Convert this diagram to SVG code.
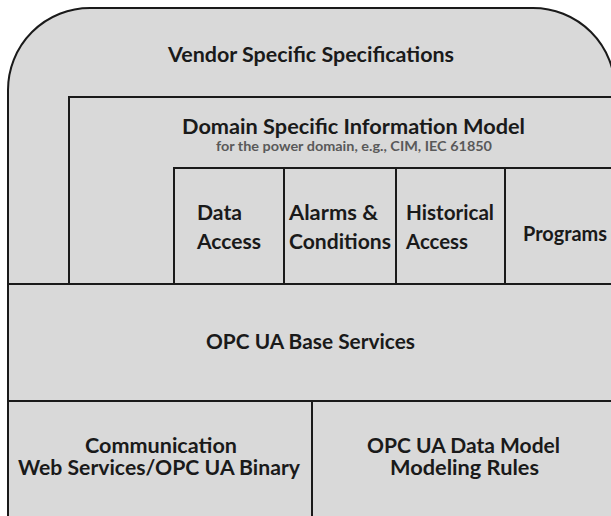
<svg xmlns="http://www.w3.org/2000/svg" width="611" height="516" viewBox="0 0 611 516">
  <style>
    .box { fill: #d9d9d9; stroke: #1a1a1a; stroke-width: 2; }
    .t { font-family: Lato, "Open Sans", "Liberation Sans", sans-serif; font-weight: bold; font-size: 21px; fill: #1a1a1a; }
    .tb { font-family: Lato, "Open Sans", "Liberation Sans", sans-serif; font-weight: bold; font-size: 20px; fill: #1a1a1a; }
    .sub { font-family: Lato, "Open Sans", "Liberation Sans", sans-serif; font-weight: bold; font-size: 13px; fill: #595959; }
  </style>
  <rect x="0" y="0" width="611" height="516" fill="#ffffff"/>
  <g id="vendor">
    <path class="box" d="M8,530 V90 A82,82 0 0 1 90,8 H533 A82,82 0 0 1 615,90 V530"/>
    <text class="t" x="168" y="62" textLength="286" lengthAdjust="spacingAndGlyphs">Vendor Specific Specifications</text>
  </g>
  <g id="domain">
    <rect class="box" x="69" y="97" width="570" height="187"/>
    <text class="t" x="182" y="134" textLength="343" lengthAdjust="spacingAndGlyphs">Domain Specific Information Model</text>
    <text class="sub" x="216" y="151" textLength="276" lengthAdjust="spacingAndGlyphs">for the power domain, e.g., CIM, IEC 61850</text>
  </g>
  <g id="data-access">
    <rect class="box" x="174" y="168" width="110" height="116"/>
    <text class="t" x="197" y="220" textLength="45" lengthAdjust="spacingAndGlyphs">Data</text>
    <text class="t" x="197" y="249" textLength="64" lengthAdjust="spacingAndGlyphs">Access</text>
  </g>
  <g id="alarms-conditions">
    <rect class="box" x="284" y="168" width="112" height="116"/>
    <text class="t" x="289" y="220" textLength="89" lengthAdjust="spacingAndGlyphs">Alarms &amp;</text>
    <text class="t" x="289" y="249" textLength="102" lengthAdjust="spacingAndGlyphs">Conditions</text>
  </g>
  <g id="historical-access">
    <rect class="box" x="396" y="168" width="109" height="116"/>
    <text class="t" x="406" y="220" textLength="88" lengthAdjust="spacingAndGlyphs">Historical</text>
    <text class="t" x="406" y="249" textLength="62" lengthAdjust="spacingAndGlyphs">Access</text>
  </g>
  <g id="programs">
    <rect class="box" x="505" y="168" width="130" height="116"/>
    <text class="t" x="523" y="241" textLength="84" lengthAdjust="spacingAndGlyphs">Programs</text>
  </g>
  <g id="base-services">
    <rect class="box" x="8" y="284" width="630" height="117"/>
    <text class="t" x="206" y="349" textLength="209" lengthAdjust="spacingAndGlyphs">OPC UA Base Services</text>
  </g>
  <g id="communication">
    <rect class="box" x="8" y="401" width="304" height="130"/>
    <text class="tb" x="85" y="453" textLength="152" lengthAdjust="spacingAndGlyphs">Communication</text>
    <text class="tb" x="18" y="475" textLength="282" lengthAdjust="spacingAndGlyphs">Web Services/OPC UA Binary</text>
  </g>
  <g id="data-model">
    <rect class="box" x="312" y="401" width="330" height="130"/>
    <text class="tb" x="367" y="453" textLength="193" lengthAdjust="spacingAndGlyphs">OPC UA Data Model</text>
    <text class="tb" x="390" y="475" textLength="149" lengthAdjust="spacingAndGlyphs">Modeling Rules</text>
  </g>
  <g id="connectors"/>
</svg>
